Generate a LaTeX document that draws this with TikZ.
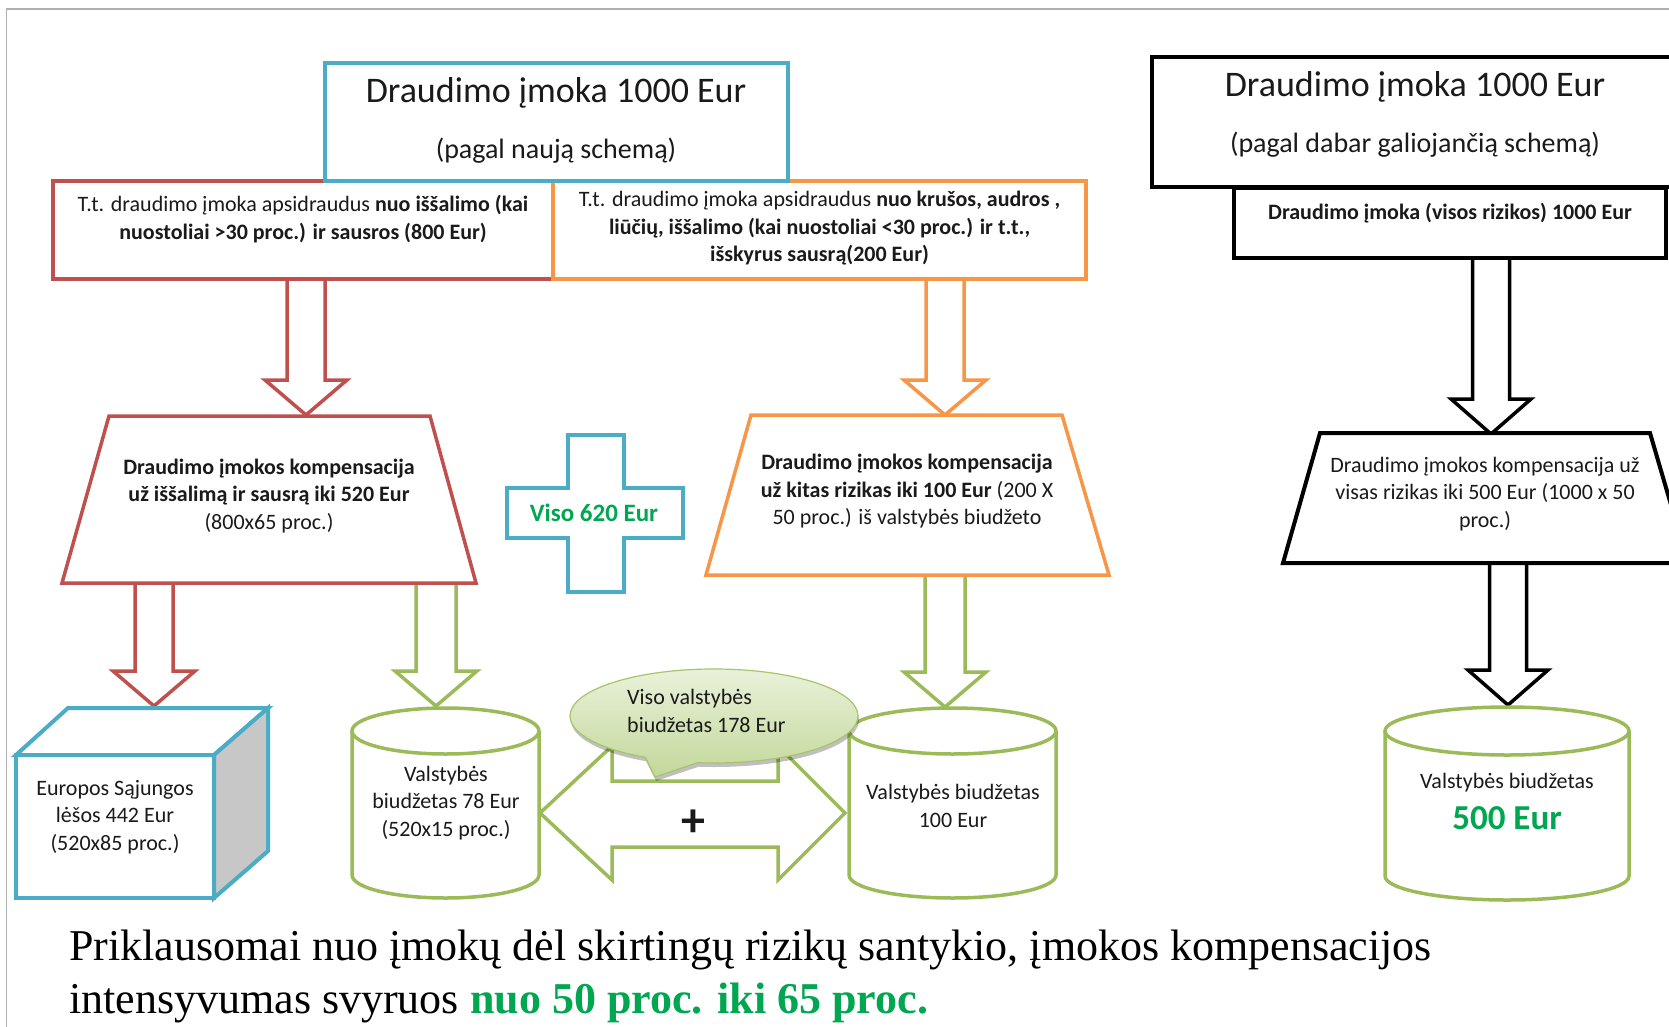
\documentclass[tikz,border=0pt]{standalone}
\usepackage{fontspec}
\setmainfont{Carlito}
\newfontfamily\tnr{Liberation Serif}
\usetikzlibrary{calc,shapes.callouts,shadows}
\definecolor{blueC}{HTML}{4BACC6}
\definecolor{redC}{HTML}{C0504D}
\definecolor{orangeC}{HTML}{F79646}
\definecolor{greenC}{HTML}{9BBB59}
\definecolor{txtgreen}{HTML}{00A650}
\definecolor{txtdark}{HTML}{1A1A1A}
\definecolor{calloutTop}{HTML}{EAF1DA}
\definecolor{calloutBot}{HTML}{C2D89A}
\definecolor{calloutLine}{HTML}{A7C46A}
\definecolor{frameC}{HTML}{B0B0B0}
\tikzset{
  txt/.style={font=\fontsize{22}{27.5}\selectfont, align=center, inner sep=0pt, text=txtdark},
  ttl/.style={font=\fontsize{36}{40}\selectfont, inner sep=0pt, text=txtdark},
  sub/.style={font=\fontsize{28}{32}\selectfont, inner sep=0pt, text=txtdark},
  rbox/.style={line width=4.5pt, fill=white, line join=miter},
  trap/.style={line width=3.5pt, fill=white, line join=miter},
  blk/.style={line width=3.5pt, fill=white, line join=miter},
  cyl/.style={line width=3.5pt, draw=greenC, fill=white},
}
\newcommand\barrow[5]{%
  \draw[blk, draw=#1] let \p1=(#2), \p2=(#3) in
    (\x1-#4pt,\y1) -- (\x1-#4pt,\y2+35pt) -- (\x1-#5pt,\y2+35pt) -- (\x1,\y2)
    -- (\x1+#5pt,\y2+35pt) -- (\x1+#4pt,\y2+35pt) -- (\x1+#4pt,\y1);}
\newcommand\cylin[5]{% x1, x2, ytop, ybot, ry
  \draw[cyl] (#1,#3) -- (#1,#4) arc[start angle=180, end angle=360, x radius={(#2-#1)/2*1pt}, y radius=#5pt] -- (#2,#3);
  \draw[cyl] ({(#1+#2)/2},#3) ellipse[x radius={(#2-#1)/2*1pt}, y radius=#5pt];}
\begin{document}
\begin{tikzpicture}[x=1pt,y=-1pt]
\useasboundingbox (0,0) rectangle (1669,1027);
\fill[white] (0,0) rectangle (1669,1027);
\clip (0,0) rectangle (1669,1027);
% frame
\draw[frameC, line width=1.5pt] (6.5,1027) -- (6.5,9) -- (1669,9);

% ===== arrow end points
\coordinate (ra1s) at (306,277); \coordinate (ra1e) at (306,415);
\coordinate (oa1s) at (945,277); \coordinate (oa1e) at (945,415);
\coordinate (ra2s) at (154,581); \coordinate (ra2e) at (154,706);
\coordinate (ga1s) at (436,581); \coordinate (ga1e) at (436,706);
\coordinate (ga2s) at (945,573); \coordinate (ga2e) at (945,707);
\coordinate (ka1s) at (1491,256); \coordinate (ka1e) at (1491,434);
\coordinate (ka2s) at (1508,561); \coordinate (ka2e) at (1508,705);

% block arrows (drawn under the shapes)
\barrow{redC}{ra1s}{ra1e}{19}{41}
\barrow{orangeC}{oa1s}{oa1e}{19}{41}
\barrow{redC}{ra2s}{ra2e}{19}{41}
\barrow{greenC}{ga1s}{ga1e}{20}{41}
\barrow{greenC}{ga2s}{ga2e}{20}{41}
\barrow{black}{ka1s}{ka1e}{18.5}{40}
\barrow{black}{ka2s}{ka2e}{18.5}{40}

% ===== left scheme: top boxes
\draw[rbox, draw=redC] (53,181) rectangle (553,279);
\draw[rbox, draw=orangeC] (553,181) rectangle (1086,279);
\draw[rbox, draw=blueC] (325,63) rectangle (788,181);
\node[ttl] (bt1) at (556,93) {Draudimo įmoka 1000 Eur};
\node[sub] (bt2) at (556,151) {(pagal naują schemą)};
\node[txt] (rtxt) at (303,219) {T.t. draudimo įmoka apsidraudus \textbf{nuo iššalimo (kai}\\\textbf{nuostoliai >30 proc.) ir sausros (800 Eur)}};
\node[txt] (otxt) at (819.5,228.5) {T.t. draudimo įmoka apsidraudus \textbf{nuo krušos, audros ,}\\\textbf{liūčių, iššalimo (kai nuostoliai <30 proc.) ir t.t.,}\\\textbf{išskyrus sausrą(200 Eur)}};

% trapezoids
\draw[trap, draw=redC] (109,416) -- (430,416) -- (476,583) -- (62,583) -- cycle;
\node[txt] (rtrap) at (269,496) {\textbf{Draudimo įmokos kompensacija}\\\textbf{už iššalimą ir sausrą iki 520 Eur}\\(800x65 proc.)};
\draw[trap, draw=orangeC] (751,415) -- (1062,415) -- (1109,575) -- (706,575) -- cycle;
\node[txt] (otrap) at (907,491.5) {\textbf{Draudimo įmokos kompensacija}\\\textbf{už kitas rizikas iki 100 Eur} (200 X\\50 proc.) iš valstybės biudžeto};

% cross
\draw[rbox, draw=blueC] (568,435) -- (624,435) -- (624,488) -- (683,488) -- (683,538) -- (624,538) -- (624,592) -- (568,592) -- (568,538) -- (507,538) -- (507,488) -- (568,488) -- cycle;
\node[txt, font=\fontsize{25}{28}\selectfont\bfseries, text=txtgreen] (cross) at (594,513) {Viso 620 Eur};

% 3D box
\draw[line width=4pt, draw=blueC, fill=white, line join=miter] (16,755) rectangle (214,898);
\draw[line width=4pt, draw=blueC, fill=white, line join=miter] (16,755) -- (68,708) -- (268,708) -- (214,755) -- cycle;
\draw[line width=4pt, draw=blueC, fill=black!22, line join=miter] (214,755) -- (268,708) -- (268,851) -- (214,898) -- cycle;
\node[txt] (es) at (115,817) {Europos Sąjungos\\lėšos 442 Eur\\(520x85 proc.)};

% cylinders
\cylin{352}{539}{731}{875}{23}
\node[txt] (c1) at (446,803) {Valstybės\\biudžetas 78 Eur\\(520x15 proc.)};
\cylin{849}{1056}{731}{875}{23}
\node[txt] (c2) at (953,806) {Valstybės biudžetas\\100 Eur};

% double arrow
\draw[blk, draw=greenC] (540,813) -- (612,746) -- (612,781) -- (778,781) -- (778,746) -- (845,813) -- (778,880) -- (778,847) -- (612,847) -- (612,880) -- cycle;
\node[font=\fontsize{48}{48}\selectfont\bfseries, inner sep=0pt, text=txtdark] (plus) at (693,823) {+};

% callout
\node[ellipse callout, minimum width=288pt, minimum height=94pt, inner sep=0pt,
  callout absolute pointer={(655,777)}, callout pointer arc=22,
  draw=calloutLine, line width=1.2pt, top color=calloutTop, bottom color=calloutBot,
  drop shadow={shadow xshift=1pt, shadow yshift=-4pt, opacity=0.25, fill=black}] (callout) at (714,716) {};
\node[txt, align=left, anchor=west] (ctxt) at (627,711) {Viso valstybės\\biudžetas 178 Eur};

% ===== right scheme
\draw[rbox, draw=black] (1152,57) rectangle (1690,187);
\draw[rbox, draw=black] (1234,188) rectangle (1666,258);
\node[ttl] (kt1) at (1415,87) {Draudimo įmoka 1000 Eur};
\node[sub] (kt2) at (1415,145) {(pagal dabar galiojančią schemą)};
\node[txt] (ktxt) at (1450,213) {\textbf{Draudimo įmoka (visos rizikos) 1000 Eur}};
\draw[trap, draw=black, line width=4pt] (1320,433) -- (1650,433) -- (1688,563) -- (1283,563) -- cycle;
\node[txt] (ktrap) at (1485,494) {Draudimo įmokos kompensacija už\\visas rizikas iki 500 Eur (1000 x 50\\proc.)};
\cylin{1385}{1629}{731}{876}{24}
\node[txt] (c3) at (1507,783) {Valstybės biudžetas};
\node[txt, font=\fontsize{35}{38}\selectfont\bfseries, text=txtgreen] (c3b) at (1507,818) {500 Eur};

% bottom text
\node[anchor=base west, inner sep=0pt, font=\tnr\fontsize{44}{53}\selectfont] (b1) at (69,960) {Priklausomai nuo įmokų dėl skirtingų rizikų santykio, įmokos kompensacijos};
\node[anchor=base west, inner sep=0pt, font=\tnr\fontsize{44}{53}\selectfont] (b2) at (69,1013) {intensyvumas svyruos \textcolor{txtgreen}{\bfseries nuo 50 proc. iki 65 proc.}};
\end{tikzpicture}
\end{document}
